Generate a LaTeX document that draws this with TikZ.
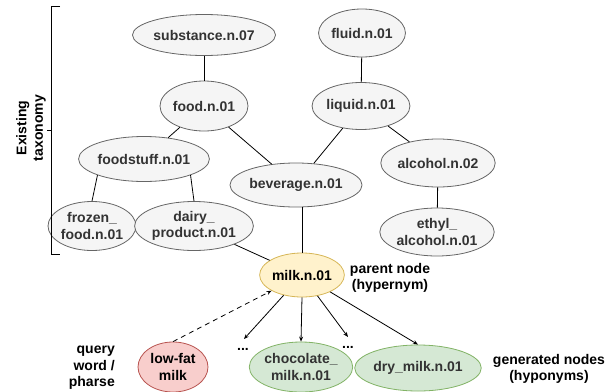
\documentclass[tikz,border=0pt]{standalone}
\usepackage{fontspec}
\setmainfont{Liberation Sans}
\usetikzlibrary{shapes.geometric,arrows.meta}
\definecolor{gfill}{HTML}{F5F5F5}
\definecolor{gline}{HTML}{666666}
\definecolor{gtext}{HTML}{333333}
\definecolor{yfill}{HTML}{FFF2CC}
\definecolor{yline}{HTML}{D6B656}
\definecolor{rfill}{HTML}{F8CECC}
\definecolor{rline}{HTML}{B85450}
\definecolor{grfill}{HTML}{D5E8D4}
\definecolor{grline}{HTML}{82B366}
\tikzset{
  base/.style={ellipse, inner sep=0pt, line width=0.8pt, align=center,
    font=\fontsize{14}{16.5}\selectfont\bfseries},
  tax/.style={base, draw=gline, fill=gfill, text=gtext},
  par/.style={base, draw=yline, fill=yfill, text=black},
  qry/.style={base, draw=rline, fill=rfill, text=black},
  gen/.style={base, draw=grline, fill=grfill, text=gtext},
  lbl/.style={inner sep=0pt, align=center, text=black,
    font=\fontsize{14}{16.5}\selectfont\bfseries},
  edge/.style={line width=0.8pt, black},
  arr/.style={edge, -{Stealth[length=5pt,width=4pt]}},
  sz/.style 2 args={minimum width=#1pt, minimum height=#2pt}
}
\begin{document}
\begin{tikzpicture}[x=1pt,y=-1pt]
\useasboundingbox (0,0) rectangle (613,391);
% taxonomy nodes
\node[tax,sz={117}{41}] (sub) at (204,35) {substance.n.07};
\node[tax,sz={70}{48}] (fluid) at (362,33) {fluid.n.01};
\node[tax,sz={70}{50}] (food) at (204,106) {food.n.01};
\node[tax,sz={81}{47}] (liquid) at (361,106) {liquid.n.01};
\node[tax,sz={105}{45}] (foodstuff) at (144,159) {foodstuff.n.01};
\node[tax,sz={105}{44}] (bev) at (296,185) {beverage.n.01};
\node[tax,sz={96}{48}] (alc) at (438,163) {alcohol.n.02};
\node[tax,sz={70}{49}] (frozen) at (92,226) {frozen\_\\food.n.01};
\node[tax,sz={96}{49}] (dairy) at (194,226) {dairy\_\\product.n.01};
\node[tax,sz={94}{48}] (ethyl) at (437,232) {ethyl\_\\alcohol.n.01};
\node[par,sz={77}{44}] (milk) at (302,275) {milk.n.01};
\node[qry,sz={70}{50}] (low) at (173,367) {low-fat\\milk};
\node[gen,sz={78}{50}] (choc) at (301,367) {chocolate\_\\milk.n.01};
\node[gen,sz={101}{46}] (dry) at (418,368) {dry\_milk.n.01};
% labels
\node[lbl] (plabel) at (390,278) {parent node\\(hypernym)};
\node[lbl, align=right, anchor=east] (qlabel) at (115,368) {query\\word /\\pharse};
\node[lbl] (glabel) at (549,369) {generated nodes\\(hyponyms)};
\node[lbl] (dots1) at (243,349) {...};
\node[lbl] (dots2) at (348,347) {...};
\node[lbl, rotate=90] (tlabel) at (31,128) {Existing\\taxonomy};
% bracket
\coordinate (bt) at (60,6);
\coordinate (bb) at (60,254);
\coordinate (bm) at (47,130);
\draw[edge, line width=0.7pt] (bt) -- (51,6) -- (51,254) -- (bb);
\draw[edge, line width=0.7pt] (51,130) -- (bm);
% taxonomy edges
\draw[edge] (sub) -- (food);
\draw[edge] (fluid) -- (liquid);
\draw[edge] (food) -- (foodstuff);
\draw[edge] (food) -- (bev);
\draw[edge] (liquid) -- (bev);
\draw[edge] (liquid) -- (alc);
\draw[edge] (alc) -- (ethyl);
\draw[edge] (foodstuff.south west) -- (frozen.north);
\draw[edge] (foodstuff.south east) -- (dairy.north);
\draw[edge] (dairy) -- (milk);
\draw[edge] (bev.south -| milk.north) -- (milk.north);
% generated edges
\coordinate (d1) at (244,339);
\coordinate (d2) at (348,337);
\draw[arr, dash pattern=on 5pt off 4pt] (low.north) -- (milk);
\draw[arr] (milk) -- (d1);
\draw[arr] (milk.south) -- (choc.north);
\draw[arr] (milk) -- (d2);
\draw[arr] (milk) -- (dry.north);
\end{tikzpicture}
\end{document}
